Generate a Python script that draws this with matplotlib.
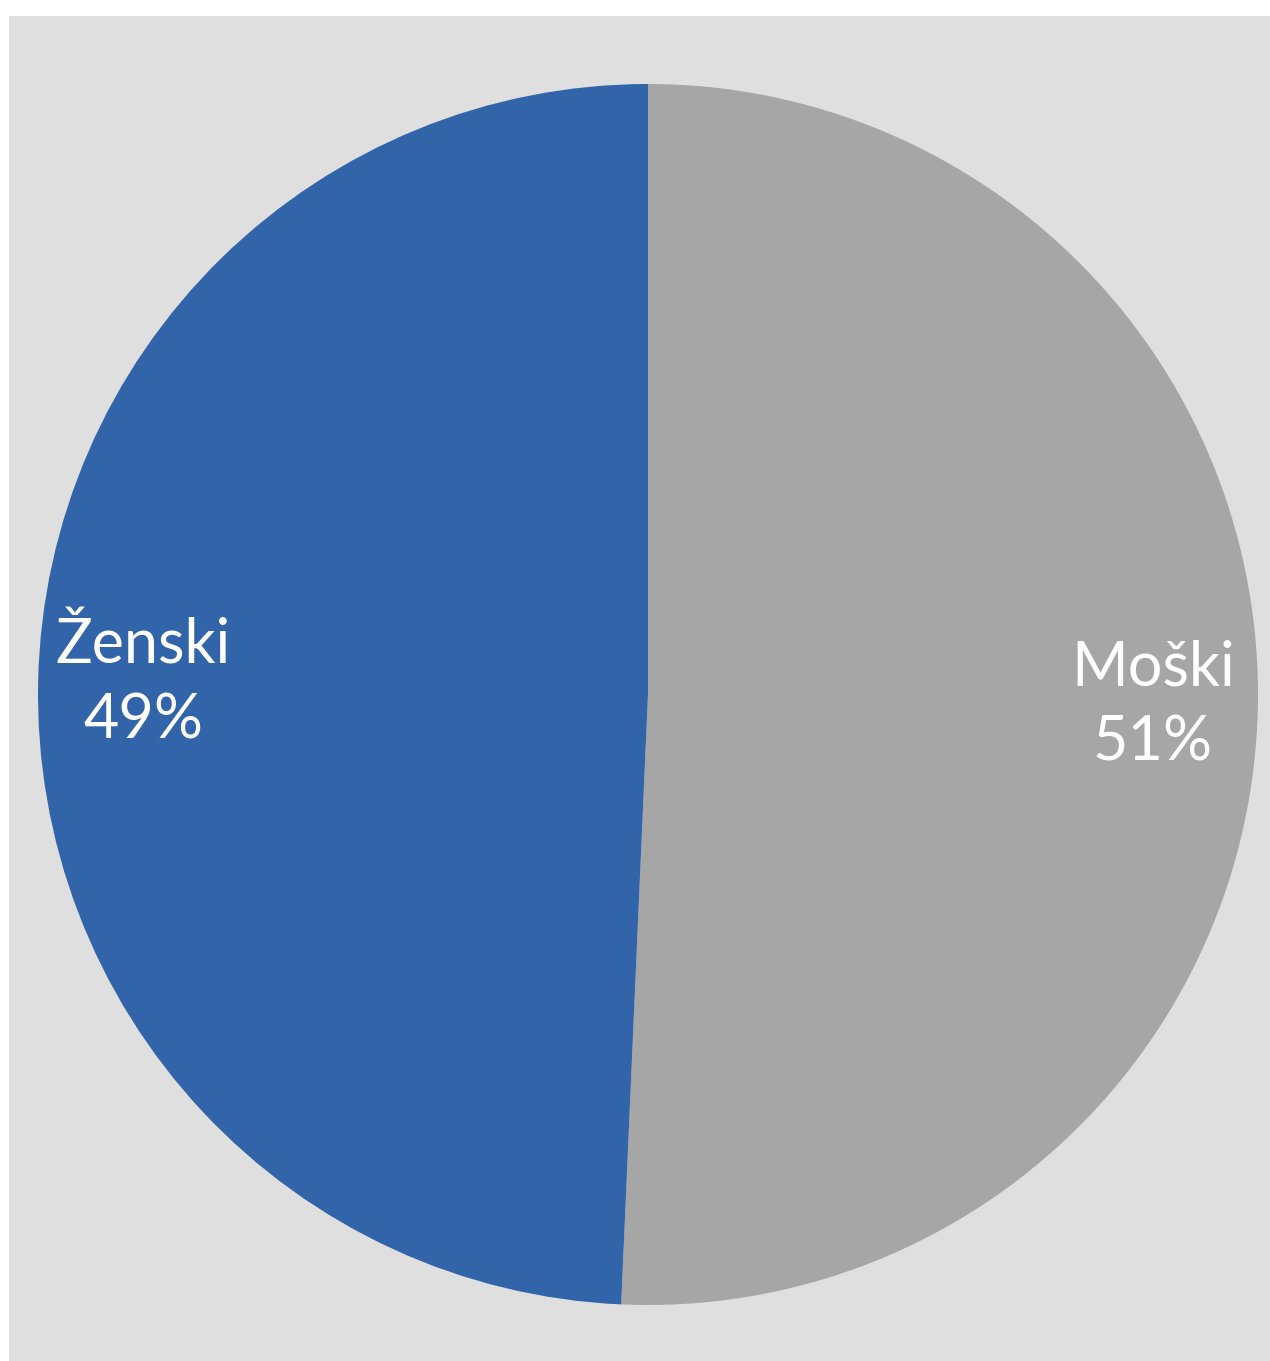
import matplotlib
matplotlib.use("Agg")
import matplotlib.pyplot as plt
from matplotlib.patches import Rectangle

categories = ["Moški", "Ženski"]
shares = [50.7, 49.3]
colors = ["#a6a6a6", "#3264aa"]

W, H = 1270, 1361
fig = plt.figure(figsize=(W / 100, H / 100), dpi=100)
fig.patch.set_facecolor("white")

# grey chart area, leaves a thin white strip at top and left
bg = fig.add_axes([9 / W, 0, 1 - 9 / W, (H - 16) / H], zorder=-1)
bg.add_patch(Rectangle((0, 0), 1, 1, facecolor="#dfdfdf", edgecolor="none"))
bg.set_xlim(0, 1)
bg.set_ylim(0, 1)
bg.axis("off")

ax = fig.add_axes([38 / W, (H - 1305) / H, 1220 / W, 1221 / H])
ax.set_facecolor("none")

labels = [f"{c}\n{round(s)}%" for c, s in zip(categories, shares)]
wedges, texts = ax.pie(shares, labels=labels, colors=colors, startangle=90,
                       counterclock=False, labeldistance=0.828, radius=1,
                       wedgeprops=dict(linewidth=0),
                       textprops=dict(color="white", fontsize=44,
                                      family=["Lato", "DejaVu Sans"]))
for t in texts:
    t.set_ha("center")
    t.set_va("center")
    t.set_linespacing(1.4)
ax.set_xlim(-1, 1)
ax.set_ylim(-1, 1)
ax.set_aspect("auto")
ax.axis("off")

fig.savefig("out.png", dpi=100, facecolor=fig.get_facecolor())
